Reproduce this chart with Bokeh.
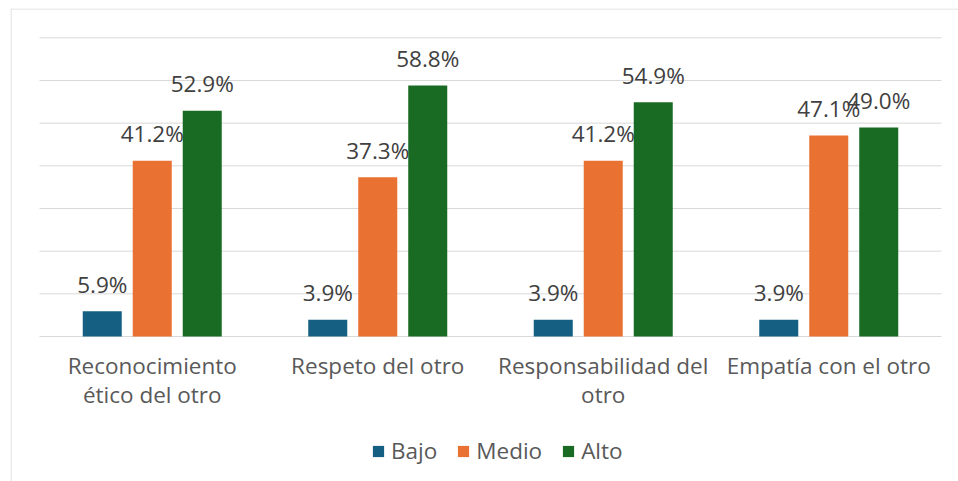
import numpy as np
from bokeh.plotting import figure
from bokeh.models import Range1d, ColumnDataSource, Legend, LegendItem, Span
from bokeh.core.properties import value
from bokeh.embed import file_html
from bokeh.resources import INLINE

# ---- data ----
categories = ["Reconocimiento\nético del otro", "Respeto del otro",
              "Responsabilidad del\notro", "Empatía con el otro"]
series_names = ["Bajo", "Medio", "Alto"]
bajo = [5.9, 3.9, 3.9, 3.9]
medio = [41.2, 37.3, 41.2, 47.1]
alto = [52.9, 58.8, 54.9, 49.0]
grid_values = [0, 10, 20, 30, 40, 50, 60, 70]
colors = ["#156082", "#E97132", "#196B24"]

FONT_NAME = "Open Sans"
FONT = value(FONT_NAME)
FS = "22.5px"
W, H = 958, 481

xr = Range1d(-0.1286, 4.0754)
yr = Range1d(-33.98, 76.87)
p = figure(width=W, height=H, output_backend="svg", toolbar_location=None,
           x_range=xr, y_range=yr,
           x_axis_type=None, y_axis_type=None,
           min_border=0, min_border_left=10, min_border_top=8,
           min_border_right=0, min_border_bottom=0)
p.outline_line_color = None
p.background_fill_color = "white"
p.border_fill_color = "white"

# chart border (only left/top edges are visible in the window); half-pixel inset for crispness
px_x = (xr.end - xr.start) / (W - 10)
px_y = (yr.end - yr.start) / (H - 8)
p.add_layout(Span(location=xr.start + 0.5 * px_x, dimension="height",
                  line_color="#D9D9D9", line_width=1))
p.add_layout(Span(location=yr.end - 0.5 * px_y, dimension="width",
                  line_color="#D9D9D9", line_width=1))

n = len(categories)
xc = np.arange(n) + 0.5

# gridlines
p.segment(x0=[0] * len(grid_values), x1=[n] * len(grid_values),
          y0=grid_values, y1=grid_values, line_color="#D9D9D9", line_width=1)

offsets = [-0.2217, 0.0, 0.2217]
bar_w = 0.173
items = []
for name, vals, col, off in zip(series_names, [bajo, medio, alto], colors, offsets):
    src = ColumnDataSource(dict(x=xc + off, top=vals,
                                lbl=[f"{v:.1f}%" for v in vals]))
    r = p.vbar(x="x", top="top", bottom=0, width=bar_w, source=src,
               fill_color=col, line_color=None)
    p.text(x="x", y="top", text="lbl", source=src, text_align="center",
           text_baseline="alphabetic", y_offset=-27,
           text_font=FONT, text_font_size=FS, text_color="#404040")
    items.append(LegendItem(label=name, renderers=[r]))

# category labels (split into lines)
line1 = [c.split("\n")[0] for c in categories]
line2 = [c.split("\n")[1] if "\n" in c else "" for c in categories]
p.text(x=xc, y=[0] * n, text=line1, text_align="center", text_baseline="alphabetic",
       y_offset=29, text_font=FONT, text_font_size=FS, text_color="#595959")
p.text(x=xc, y=[0] * n, text=line2, text_align="center", text_baseline="alphabetic",
       y_offset=58, text_font=FONT, text_font_size=FS, text_color="#595959")

legend = Legend(items=items, orientation="horizontal", location=(361, 15),
                glyph_width=14, glyph_height=14, label_standoff=6, spacing=19,
                padding=0, margin=0, border_line_alpha=0, background_fill_alpha=0,
                label_text_font=FONT_NAME, label_text_font_size=FS,
                label_text_color="#595959", label_height=14)
p.add_layout(legend)

open("out.html", "w").write(file_html(p, INLINE))
